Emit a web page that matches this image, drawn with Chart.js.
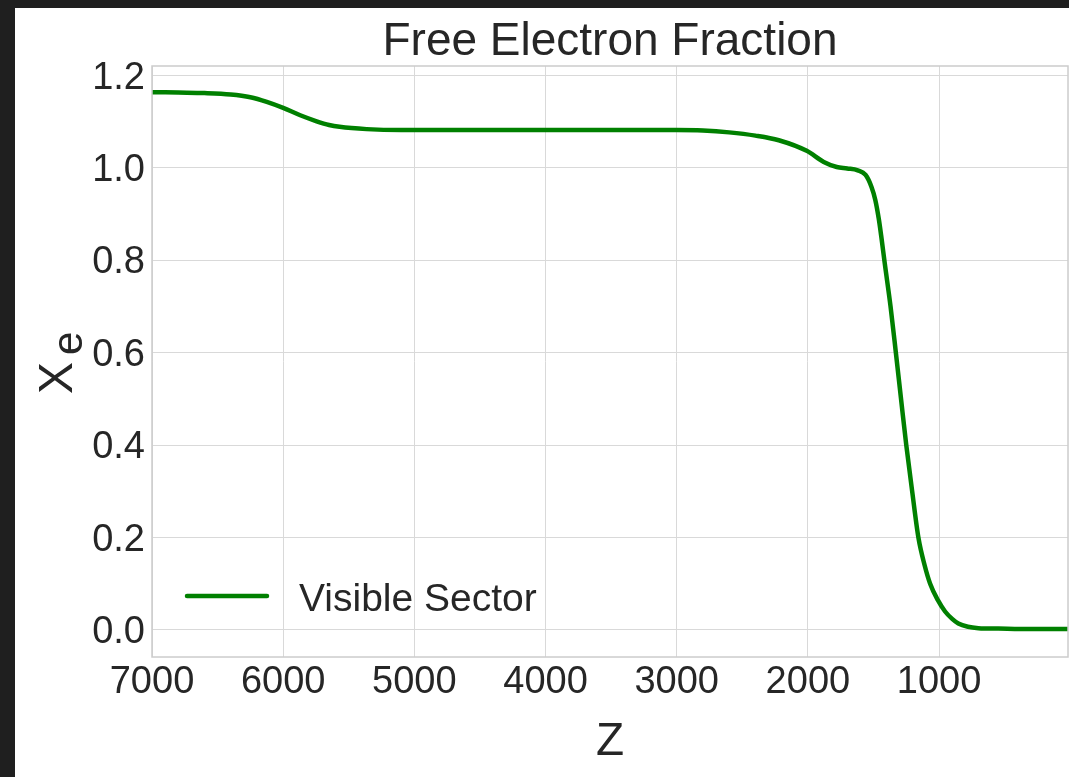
<!DOCTYPE html>
<html>
<head>
<meta charset="utf-8">
<script src="https://cdn.jsdelivr.net/npm/chart.js@4.4.1/dist/chart.umd.min.js"></script>
<style>
  html, body { margin: 0; padding: 0; background: #1f1f1f; }
  #wrap { position: relative; width: 1069px; height: 777px; }
  canvas { display: block; }
</style>
</head>
<body>
<div id="wrap"><canvas id="c" width="1069" height="777"></canvas></div>
<script>
// ---- data ----
const zValues = [7000, 6800, 6600, 6400, 6250, 6125, 6000, 5870, 5745, 5650, 5570, 5364, 5100,
  4000, 3000, 2800, 2600, 2400, 2222, 2009, 1879, 1780, 1700, 1620, 1560, 1515, 1486,
  1460, 1440, 1415, 1370, 1329, 1290, 1250, 1205, 1157, 1110, 1068, 1010, 954, 900,
  853, 780, 700, 548, 300, 17];
const xeValues = [1.163, 1.162, 1.161, 1.158, 1.152, 1.142, 1.129, 1.113, 1.100, 1.092, 1.088, 1.083, 1.081,
  1.081, 1.081, 1.080, 1.076, 1.069, 1.059, 1.036, 1.012, 1.001, 0.998, 0.994, 0.984, 0.958, 0.930,
  0.890, 0.850, 0.795, 0.700, 0.599, 0.500, 0.400, 0.300, 0.199, 0.140, 0.100, 0.065, 0.040, 0.024,
  0.014, 0.007, 0.004, 0.003, 0.002, 0.002];
const xTickValues = [7000, 6000, 5000, 4000, 3000, 2000, 1000];
const yTickValues = [0.0, 0.2, 0.4, 0.6, 0.8, 1.0, 1.2];
const seriesLabel = 'Visible Sector';
const chartTitle = 'Free Electron Fraction';
const xAxisTitle = 'Z';
const yAxisMain = 'X';
const yAxisSub = 'e';

const FONT = "'Liberation Sans', Arial, sans-serif";
const TEXT = '#262626';
const LINE = '#008000';

const decor = {
  id: 'decor',
  beforeDraw(chart) {
    const ctx = chart.ctx;
    ctx.save();
    ctx.fillStyle = '#1f1f1f';
    ctx.fillRect(0, 0, chart.width, chart.height);
    ctx.fillStyle = '#ffffff';
    ctx.fillRect(15, 8, chart.width - 15, chart.height - 8);
    ctx.restore();
  },
  afterDraw(chart) {
    const ctx = chart.ctx;
    const a = chart.chartArea;
    ctx.save();
    // frame
    ctx.strokeStyle = '#cccccc';
    ctx.lineWidth = 1.5;
    ctx.strokeRect(a.left, a.top, a.right - a.left, a.bottom - a.top);
    // title
    ctx.fillStyle = TEXT;
    ctx.font = '46px ' + FONT;
    ctx.textAlign = 'center';
    ctx.textBaseline = 'alphabetic';
    ctx.fillText(chartTitle, (a.left + a.right) / 2, 55);
    // x axis title
    ctx.font = '46px ' + FONT;
    ctx.fillText(xAxisTitle, (a.left + a.right) / 2, 755);
    // y axis title with subscript
    ctx.save();
    ctx.translate(72, 394);
    ctx.rotate(-Math.PI / 2);
    ctx.textAlign = 'left';
    ctx.font = '48px ' + FONT;
    ctx.fillText(yAxisMain, 0, 0);
    const w = ctx.measureText(yAxisMain).width;
    ctx.font = '42px ' + FONT;
    ctx.fillText(yAxisSub, w + 7, 10);
    ctx.restore();
    // legend
    const ds = chart.data.datasets[0];
    ctx.strokeStyle = ds.borderColor;
    ctx.lineWidth = 4.5;
    ctx.lineCap = 'round';
    ctx.beginPath();
    ctx.moveTo(187, 596);
    ctx.lineTo(267, 596);
    ctx.stroke();
    ctx.fillStyle = TEXT;
    ctx.font = '39px ' + FONT;
    ctx.textAlign = 'left';
    ctx.fillText(ds.label, 299, 611);
    ctx.restore();
  }
};

new Chart(document.getElementById('c'), {
  type: 'line',
  data: {
    datasets: [{
      label: seriesLabel,
      data: zValues.map((z, i) => ({ x: z, y: xeValues[i] })),
      borderColor: LINE,
      backgroundColor: LINE,
      borderWidth: 4.5,
      pointRadius: 0,
      cubicInterpolationMode: 'monotone',
      fill: false
    }]
  },
  options: {
    responsive: false,
    animation: false,
    devicePixelRatio: 1,
    layout: { padding: { top: 66, right: 1, left: 0, bottom: 0 } },
    plugins: { legend: { display: false }, title: { display: false }, tooltip: { enabled: false } },
    scales: {
      x: {
        type: 'linear',
        reverse: true,
        min: 17,
        max: 7000,
        afterBuildTicks: s => { s.ticks = xTickValues.map(v => ({ value: v })); },
        afterFit: s => { s.height = 120; },
        ticks: {
          font: { size: 38, family: FONT },
          color: TEXT,
          maxRotation: 0,
          autoSkip: false,
          padding: 3,
          callback: v => String(v)
        },
        grid: { color: '#d9d9d9', lineWidth: 1, drawTicks: false },
        border: { display: false }
      },
      y: {
        type: 'linear',
        min: -0.0584,
        max: 1.2195,
        afterBuildTicks: s => { s.ticks = yTickValues.map(v => ({ value: v })); },
        afterFit: s => { s.width = 152; },
        ticks: {
          font: { size: 38, family: FONT },
          color: TEXT,
          padding: 7,
          labelOffset: 3,
          callback: v => v.toFixed(1)
        },
        grid: { color: '#d9d9d9', lineWidth: 1, drawTicks: false },
        border: { display: false }
      }
    }
  },
  plugins: [decor]
});
</script>
</body>
</html>
